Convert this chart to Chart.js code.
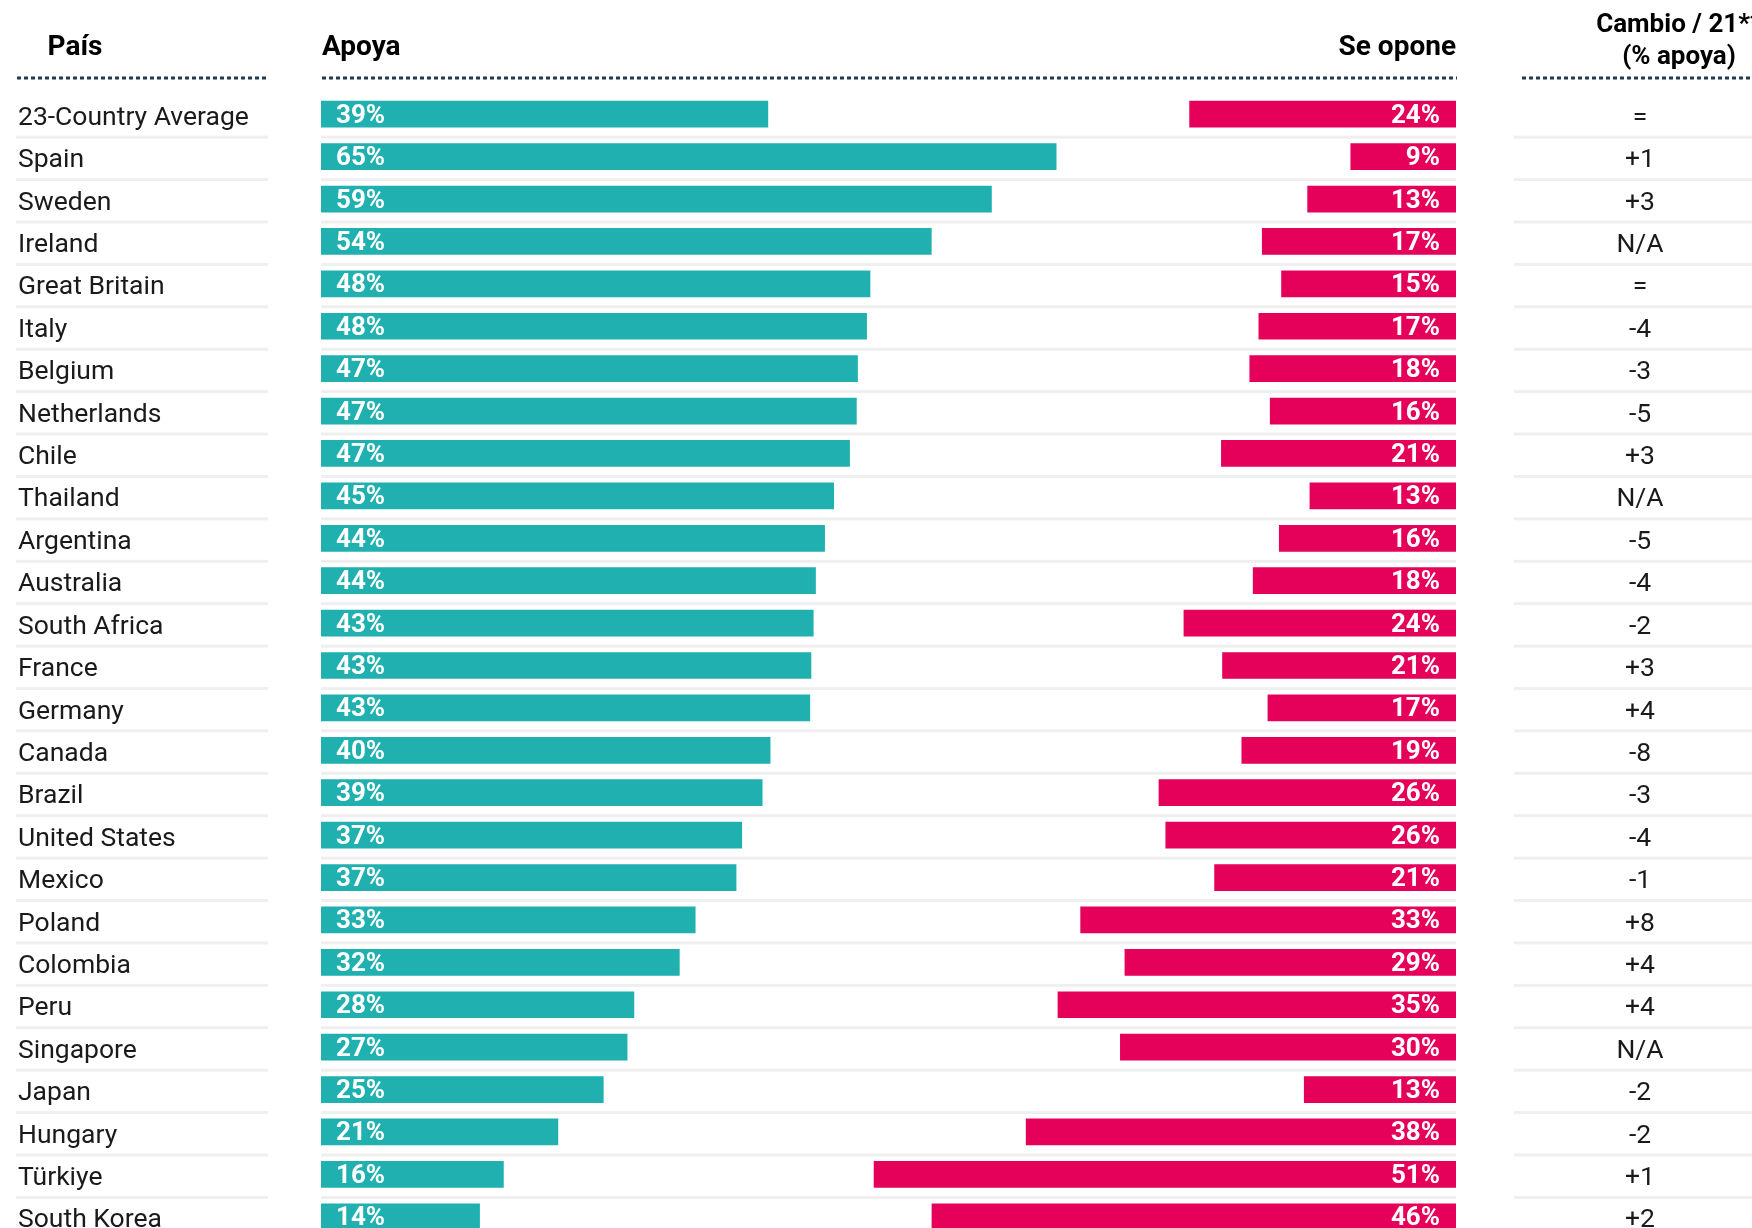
<!DOCTYPE html>
<html>
<head>
<meta charset="utf-8">
<script src="https://cdn.jsdelivr.net/npm/chart.js@4"></script>
<style>
  body { margin: 0; background: #fff; }
  #wrap { width: 1752px; height: 1228px; overflow: hidden; }
</style>
</head>
<body>
<div id="wrap"><canvas id="graph01" width="1752" height="1260"></canvas></div>
<script>
const countries = [
  "23-Country Average", "Spain", "Sweden", "Ireland", "Great Britain", "Italy",
  "Belgium", "Netherlands", "Chile", "Thailand", "Argentina", "Australia",
  "South Africa", "France", "Germany", "Canada", "Brazil", "United States",
  "Mexico", "Poland", "Colombia", "Peru", "Singapore", "Japan", "Hungary",
  "Türkiye", "South Korea",
];
// % support / oppose (labels show them rounded)
const support = [
  39.4, 64.8, 59.1, 53.8, 48.4, 48.1, 47.3, 47.2, 46.6, 45.2, 44.4, 43.6, 43.4,
  43.2, 43.1, 39.6, 38.9, 37.1, 36.6, 33.0, 31.6, 27.6, 27.0, 24.9, 20.9, 16.1,
  14.0,
];
const oppose = [
  23.5, 9.3, 13.1, 17.1, 15.4, 17.4, 18.2, 16.4, 20.7, 12.9, 15.6, 17.9, 24.0,
  20.6, 16.6, 18.9, 26.2, 25.6, 21.3, 33.1, 29.2, 35.1, 29.6, 13.4, 37.9, 51.3,
  46.2,
];
const change = [
  "=", "+1", "+3", "N/A", "=", "-4", "-3", "-5", "+3", "N/A", "-5", "-4", "-2",
  "+3", "+4", "-8", "-3", "-4", "-1", "+8", "+4", "+4", "N/A", "-2", "-2", "+1",
  "+2",
];

const teal = "#1fb0af";
const red = "#e5005a";
const navy = "#1d3a4e";
const FONT = "Roboto, 'Liberation Sans', sans-serif";

// headers, dotted rules, row labels, separators and "Cambio" column
const tablePlugin = {
  id: "table",
  beforeDatasetsDraw(chart) {
    const c = chart.ctx;
    const y = chart.scales.y;
    c.save();
    c.fillStyle = "#efefef";
    countries.forEach((_, i) => {
      const sy = y.getPixelForValue(i) + 21.5;
      c.fillRect(16, sy, 252, 3);
      c.fillRect(321, sy, 1135, 3);
      c.fillRect(1514, sy, 238, 3);
    });
    c.restore();
  },
  afterDatasetsDraw(chart) {
    const c = chart.ctx;
    const x = chart.scales.x;
    const y = chart.scales.y;
    c.save();

    // headers
    c.fillStyle = "#000";
    c.textBaseline = "middle";
    c.font = "bold 28px " + FONT;
    c.textAlign = "center";
    c.fillText("País", 75, 48);
    c.textAlign = "left";
    c.fillText("Apoya", 322, 48);
    c.textAlign = "right";
    c.fillText("Se opone", 1456, 48);
    c.font = "bold 26px " + FONT;
    c.textAlign = "center";
    c.fillText("Cambio / 21**", 1679, 25);
    c.fillText("(% apoya)", 1679, 57);

    // dotted rules
    c.strokeStyle = navy;
    c.lineWidth = 3;
    c.setLineDash([4, 3]);
    [[17, 268], [322, 1457], [1522, 1752]].forEach(([a, b]) => {
      c.beginPath();
      c.moveTo(a, 78);
      c.lineTo(b, 78);
      c.stroke();
    });
    c.setLineDash([]);

    // country names + change column
    c.font = "26.5px " + FONT;
    c.fillStyle = "#1a1a1a";
    countries.forEach((name, i) => {
      const cy = y.getPixelForValue(i) + 4;
      c.textAlign = "left";
      c.fillText(name, 18, cy);
      c.textAlign = "center";
      c.fillText(change[i], 1640, cy);
    });

    // value labels inside bars
    c.font = "bold 26px " + FONT;
    c.fillStyle = "#fff";
    chart.getDatasetMeta(0).data.forEach((bar, i) => {
      c.textAlign = "left";
      c.fillText(Math.round(support[i]) + "%", x.getPixelForValue(0) + 15, bar.y + 2);
    });
    chart.getDatasetMeta(1).data.forEach((bar, i) => {
      c.textAlign = "right";
      c.fillText(Math.round(oppose[i]) + "%", x.getPixelForValue(100) - 16, bar.y + 2);
    });
    c.restore();
  },
};

const myChart01 = new Chart(document.getElementById("graph01"), {
  type: "bar",
  data: {
    labels: countries,
    datasets: [
      {
        label: "Apoya",
        data: support.map((v) => [0, v]),
        backgroundColor: teal,
        grouped: false,
        barPercentage: 0.63,
        categoryPercentage: 1,
      },
      {
        label: "Se opone",
        data: oppose.map((v) => [100 - v, 100]),
        backgroundColor: red,
        grouped: false,
        barPercentage: 0.63,
        categoryPercentage: 1,
      },
    ],
  },
  options: {
    indexAxis: "y",
    responsive: false,
    animation: false,
    layout: {
      padding: { left: 321, right: 296, top: 93, bottom: 22 },
    },
    scales: {
      x: { display: false, min: 0, max: 100 },
      y: { display: false },
    },
    plugins: {
      legend: { display: false },
      tooltip: { enabled: false },
    },
  },
  plugins: [tablePlugin],
});
</script>
</body>
</html>
